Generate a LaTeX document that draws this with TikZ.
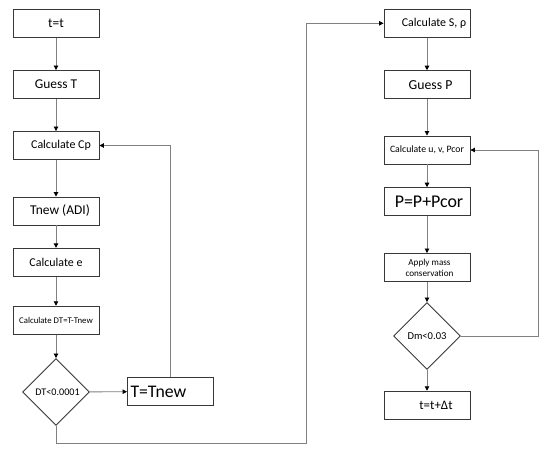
\documentclass[tikz,border=0pt]{standalone}
\usepackage{fontspec}
\setmainfont{Carlito}
\usetikzlibrary{arrows.meta,shapes.geometric}
\tikzset{
  box/.style={draw=black!78, line width=0.9bp, rectangle, minimum width=86bp, minimum height=28bp, inner sep=2bp, font=\fontsize{12}{13}\selectfont, align=center},
  dia/.style={draw=black!78, line width=0.9bp, diamond, minimum width=67bp, minimum height=67bp, inner sep=0pt},
  conn/.style={draw=black!50, line width=0.9bp, -{Triangle[length=4.5bp,width=4.5bp,color=black]}},
  plain/.style={draw=black!50, line width=0.9bp}
}
\begin{document}
\begin{tikzpicture}[x=1bp,y=-1bp]
\useasboundingbox (0,0) rectangle (550,454);
\fill[white] (0,0) rectangle (550,454);
% left column
\node[box, font=\fontsize{13.5}{14}\selectfont] (tt) at (56,23.3) {t=t};
\node[box, font=\fontsize{13.5}{14}\selectfont] (gT) at (56,84.5) {Guess T};
\node[box] (cp) at (56,145.5) {\hspace*{10bp}Calculate Cp};
\node[box, font=\fontsize{13.5}{14}\selectfont] (tn) at (56,211) {\hspace*{8bp}Tnew (ADI)};
\node[box] (ce) at (56,262.3) {Calculate e};
\node[box, font=\fontsize{8.8}{10}\selectfont] (dt) at (56,320.2) {Calculate DT=T-Tnew};
\node[dia, font=\fontsize{10.2}{11}\selectfont] (d1) at (56,392) {\hspace*{3bp}DT<0.0001};
\node[box, font=\fontsize{17.8}{19}\selectfont, text width=80bp, align=left, inner sep=3bp] (tT) at (170.5,391.5) {T=Tnew};
% right column
\node[box] (cs) at (427,23.3) {\hspace*{14bp}Calculate S, ρ};
\node[box, font=\fontsize{13.8}{14}\selectfont] (gP) at (427,84.7) {\hspace*{7bp}Guess P};
\node[box, font=\fontsize{9.8}{10}\selectfont] (cu) at (427,150) {Calculate u, v, Pcor};
\node[box, font=\fontsize{18}{19}\selectfont] (pp) at (427,201.7) {\hspace*{4bp}P=P+Pcor};
\node[box, font=\fontsize{9.2}{11}\selectfont] (am) at (427,267.5) {\hspace*{5bp}Apply mass\\\hspace*{5bp}conservation};
\node[dia, font=\fontsize{10.6}{11}\selectfont] (d2) at (427,336) {Dm<0.03};
\node[box, font=\fontsize{13}{14}\selectfont] (td) at (427,405.2) {\hspace*{18bp}t=t+Δt};
\coordinate (turn) at (306,443);
\coordinate (rc) at (538.7,336);
% connectors left
\draw[conn] (tt) -- (gT);
\draw[conn] (gT) -- (cp);
\draw[conn] (cp) -- (tn);
\draw[conn] (tn) -- (ce);
\draw[conn] (ce) -- (dt);
\draw[conn] (dt) -- (d1);
\draw[conn] (d1) -- (tT);
\draw[conn] (tT.north) |- (cp.east);
\draw[conn] (d1.south) |- (turn) |- (cs.west);
% connectors right
\draw[conn] (cs) -- (gP);
\draw[conn] (gP) -- (cu);
\draw[conn] (cu) -- (pp);
\draw[conn] (pp) -- (am);
\draw[conn] (am) -- (d2);
\draw[conn] (d2) -- (td);
\draw[conn] (d2.east) -- (rc) |- (cu.east);
\end{tikzpicture}
\end{document}
